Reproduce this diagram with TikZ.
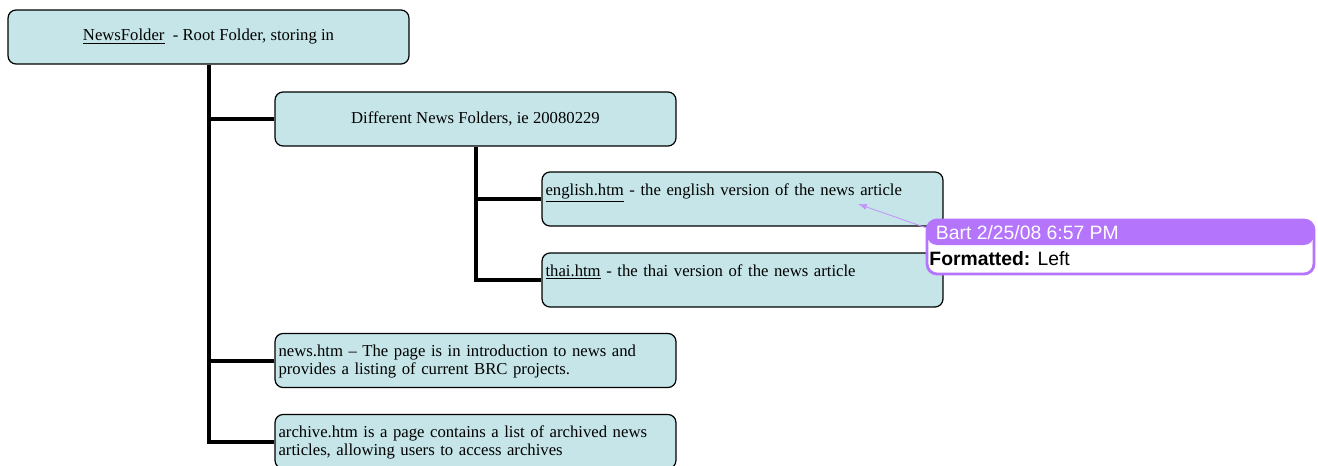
\documentclass[tikz,border=0pt]{standalone}
\usepackage{fontspec}
\setmainfont{Liberation Serif}
\newfontfamily\cmtfont{Liberation Sans}
\usepackage{xcolor}
\usepackage{tikz}
\usetikzlibrary{arrows.meta,positioning}

\definecolor{boxfill}{RGB}{197,229,232}
\definecolor{cmtpurple}{RGB}{181,116,252}
\definecolor{cmtline}{RGB}{196,150,250}

\tikzset{
  dirbox/.style={draw=black, line width=0.7pt, fill=boxfill, rounded corners=0.16cm,
    minimum width=8.02cm, minimum height=1.08cm, inner sep=0pt,
    font=\fontsize{9.5}{10.3}\selectfont},
  filebox/.style={dirbox, text width=7.88cm, align=left, inner xsep=0.07cm,
    inner ysep=0.1cm, text height=0.36cm, text depth=0.52cm},
  trunk/.style={line width=0.08cm, black},
  cmtbox/.style={draw=cmtpurple, line width=1.6pt, fill=white, rounded corners=0.2cm,
    minimum width=7.74cm, minimum height=1.08cm, inner sep=0pt,
    path picture={\fill[cmtpurple] (path picture bounding box.north west)
      rectangle ([yshift=-0.5cm]path picture bounding box.north east);}},
  cmttext/.style={anchor=base west, inner sep=0pt, font=\cmtfont\fontsize{11}{13}\selectfont}
}

\begin{document}
\begin{tikzpicture}[x=0.02cm,y=0.02cm]
\useasboundingbox (0,0) rectangle (1318,-466);
% folders
\node[dirbox] (root) at (208.5,-37) {\underline{NewsFolder}~~- Root Folder, storing in\hspace{0.5cm}};
\node[dirbox] (dif) at (475.5,-119) {Different News Folders, ie 20080229};
% pages
\node[filebox] (eng) at (742.5,-199) {\underline{english.htm} - the english version of the news article};
\node[filebox] (thai) at (742.5,-280) {\underline{thai.htm} - the thai version of the news article};
\node[filebox] (news) at (475.5,-360.5) {news.htm -- The page is in introduction to news and\\provides a listing of current BRC projects.};
\node[filebox] (arch) at (475.5,-441.5) {archive.htm is a page contains a list of archived news\\articles, allowing users to access archives};
% tree lines
\draw[trunk] (root.south) |- (arch.west);
\draw[trunk] (root.south |- dif.west) -- (dif.west);
\draw[trunk] (root.south |- news.west) -- (news.west);
\draw[trunk] (dif.south) |- (thai.west);
\draw[trunk] (dif.south |- eng.west) -- (eng.west);
% comment
\node[cmtbox] (cmt) at (1120.5,-247) {};
\node[cmttext, text=white] (cmthead) at ([xshift=0.2cm,yshift=-0.42cm]cmt.north west) {Bart 2/25/08 6:57 PM};
\node[cmttext] (cmtbody) at ([xshift=0.07cm,yshift=-0.93cm]cmt.north west) {\textbf{Formatted:} Left};
\coordinate (cmtpt) at (858,-204);
\draw[cmtline, line width=0.5pt, -{Latex[length=5pt,width=3.5pt]}] ([yshift=-0.18cm]cmt.north west) -- (cmtpt);
\end{tikzpicture}
\end{document}
